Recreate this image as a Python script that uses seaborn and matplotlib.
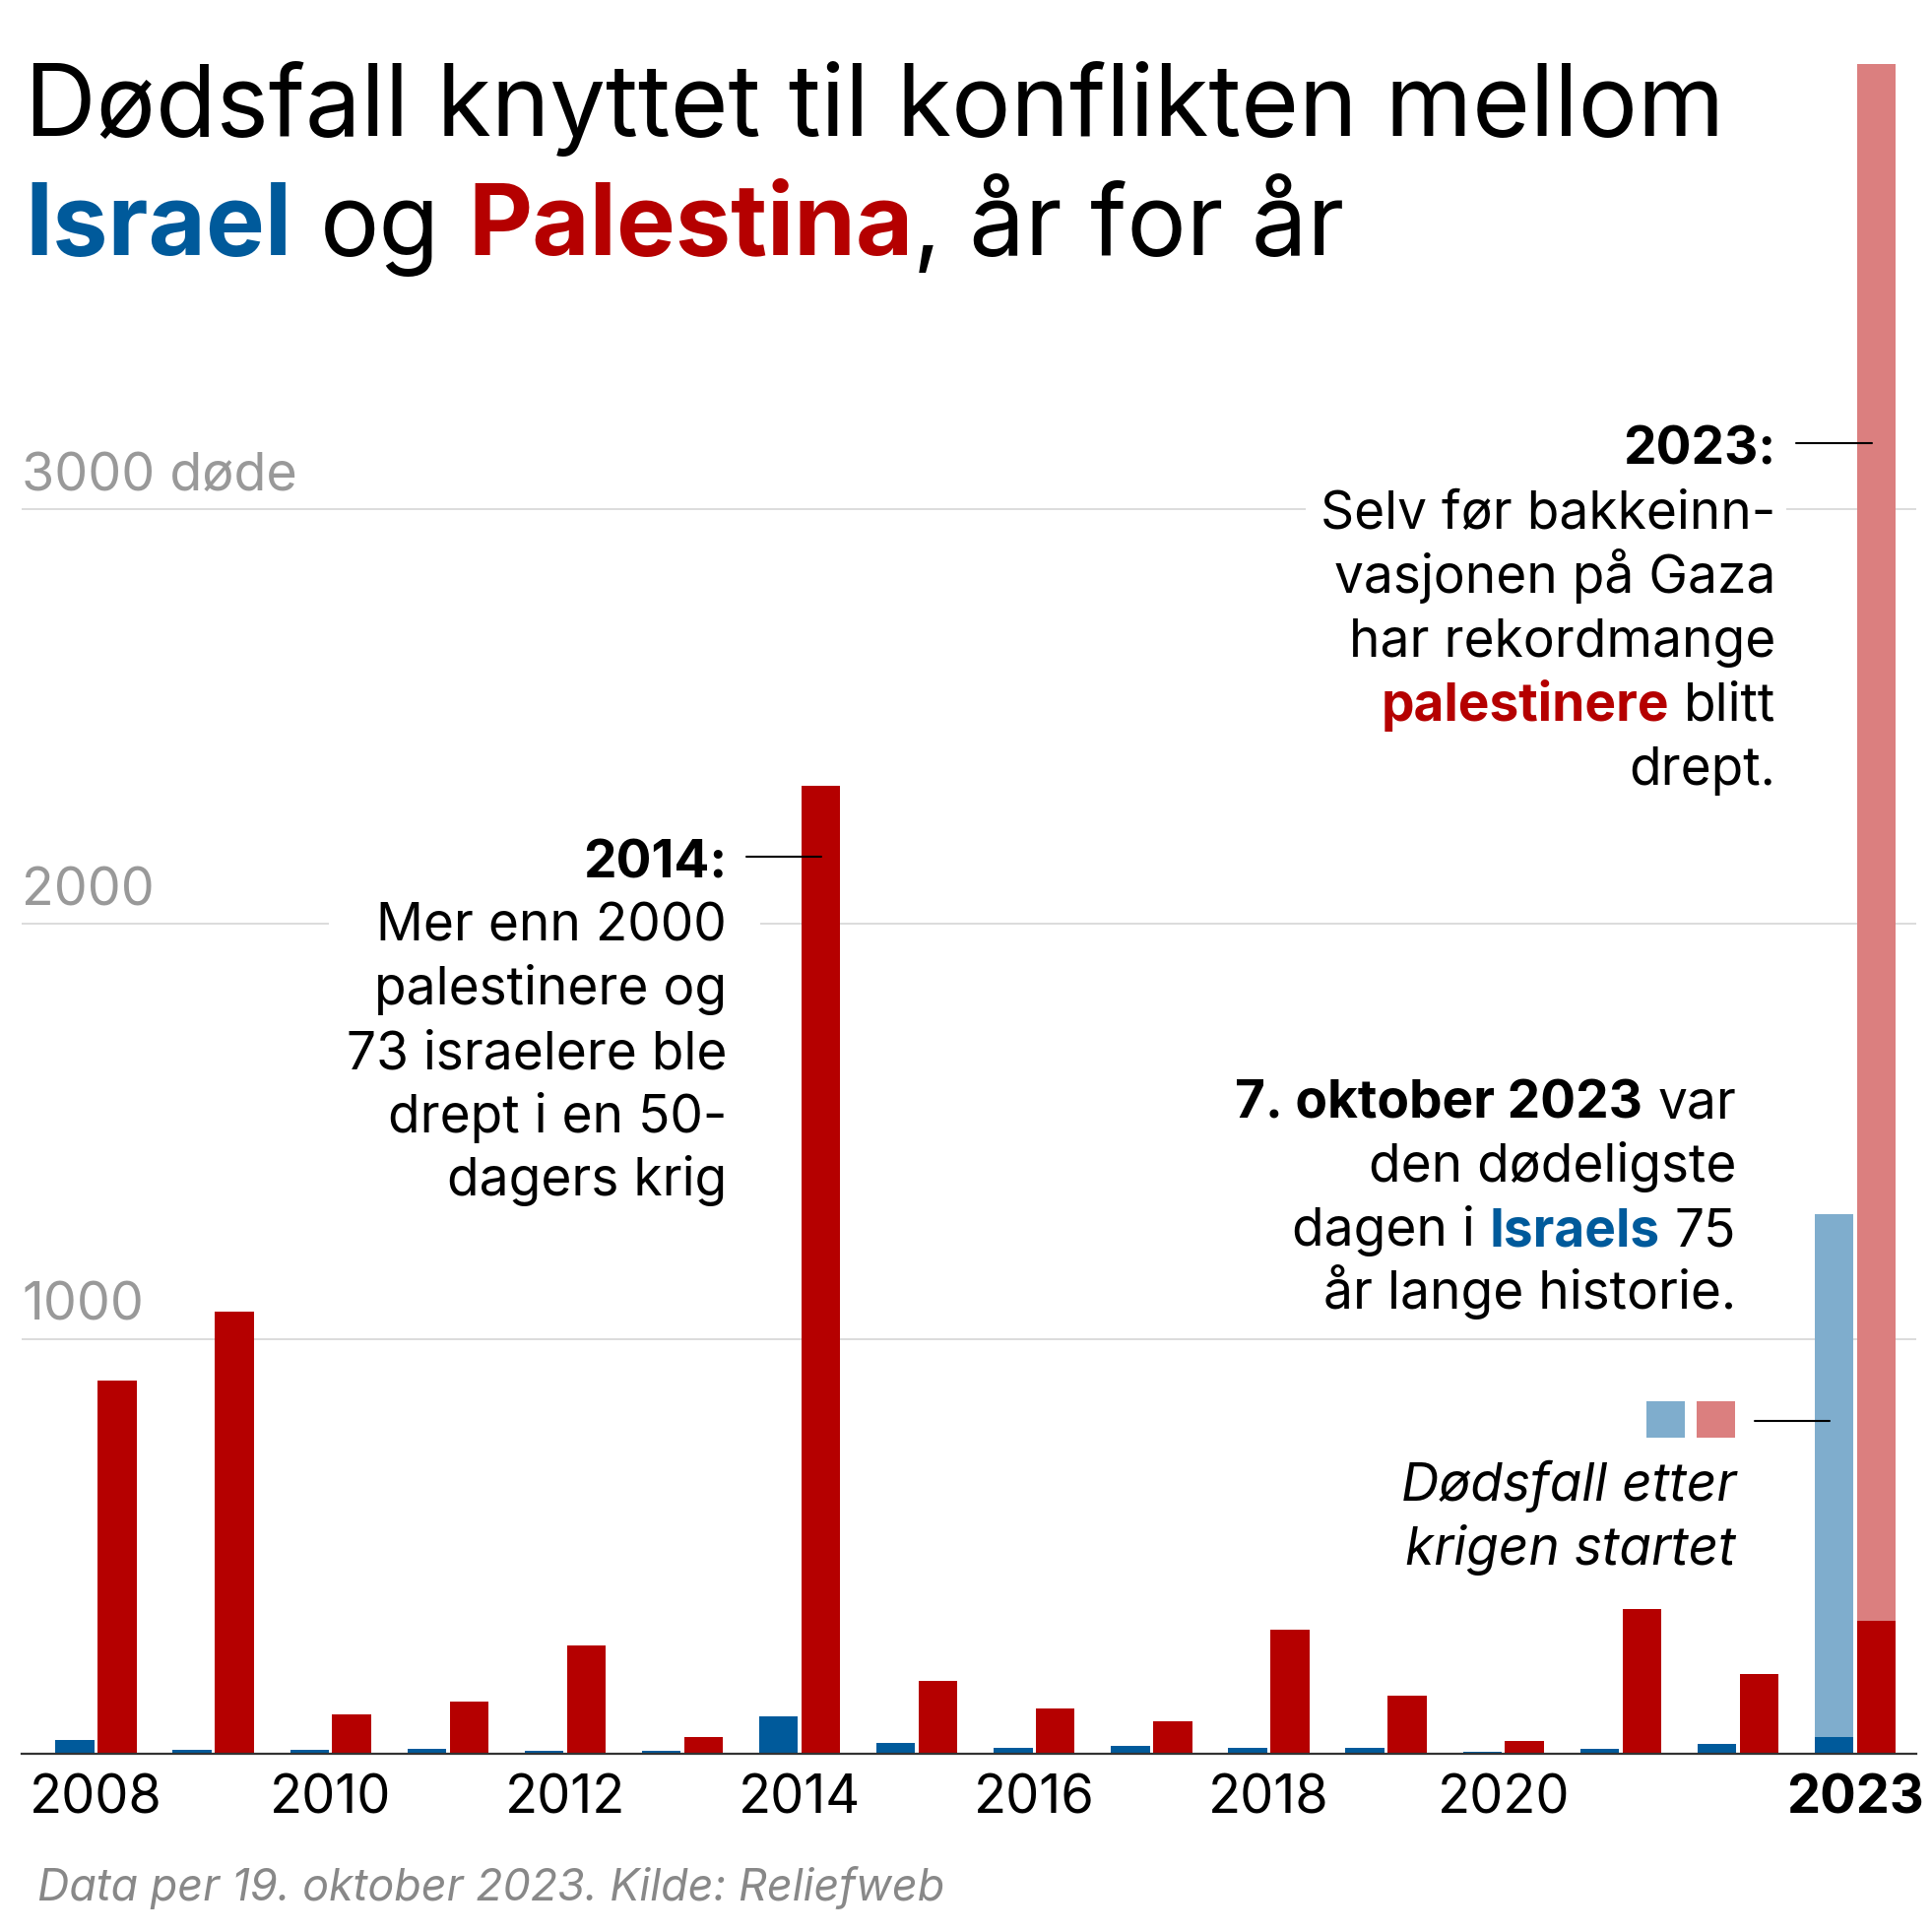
import numpy as np
import pandas as pd
import matplotlib
matplotlib.use("Agg")
import matplotlib.pyplot as plt
import seaborn as sns
from matplotlib.patches import Rectangle
from matplotlib.lines import Line2D
from matplotlib.transforms import blended_transform_factory

# ---------------- data ----------------
years = [str(y) for y in range(2008, 2024)]
israel_before = [33, 10, 9, 12, 8, 6, 90, 27, 14, 18, 14, 14, 4, 12, 24, 40]
palestine_before = [900, 1066, 95, 125, 260, 40, 2333, 176, 109, 78, 300, 139, 31, 349, 192, 320]
israel_after_war = [0] * 15 + [1260]
palestine_after_war = [0] * 15 + [3753]
groups = ["Israel", "Palestina"]
tick_years = ["2008", "2010", "2012", "2014", "2016", "2018", "2020", "2023"]
grid_values = [1000, 2000, 3000]
grid_labels = ["1000", "2000", "3000 døde"]

BLUE = "#005a9b"
RED = "#b50000"
LBLUE = "#7fadcd"
LRED = "#db7f7f"

sns.set_theme(style="white")
plt.rcParams["font.family"] = ["Inter", "DejaVu Sans"]

W = H = 1962
fig = plt.figure(figsize=(W / 100, H / 100), dpi=100)

# axes in pixel coords: left 22, right 1946, top 0, bottom 1781
AX_L, AX_R, AX_T, AX_B = 22, 1946, 0, 1781
ax = fig.add_axes([AX_L / W, 1 - AX_B / H, (AX_R - AX_L) / W, (AX_B - AX_T) / H])

total_isr = [a + b for a, b in zip(israel_before, israel_after_war)]
total_pal = [a + b for a, b in zip(palestine_before, palestine_after_war)]

df_total = pd.DataFrame({
    "year": years * 2,
    "group": ["Israel"] * len(years) + ["Palestina"] * len(years),
    "value": total_isr + total_pal,
})
df_before = pd.DataFrame({
    "year": years * 2,
    "group": ["Israel"] * len(years) + ["Palestina"] * len(years),
    "value": israel_before + palestine_before,
})

common = dict(x="year", y="value", hue="group", order=years, hue_order=groups,
              width=0.72, gap=0.08, errorbar=None, legend=False, linewidth=0,
              saturation=1, ax=ax)
sns.barplot(data=df_total, palette=[LBLUE, LRED], **common)
sns.barplot(data=df_before, palette=[BLUE, RED], **common)

px_per_year = 119.1
x0 = 97.5
ax.set_xlim(-(x0 - AX_L) / px_per_year, (AX_R - x0) / px_per_year)
px_per_unit = 421.3 / 1000
ax.set_ylim(0, (AX_B - AX_T) / px_per_unit)

# grid
ax.set_yticks(grid_values)
ax.set_yticklabels([])
ax.tick_params(axis="y", length=0)
ax.set_axisbelow(True)
ax.grid(axis="y", color="#d2d2d2", linewidth=1.1)
ax.grid(axis="x", visible=False)
for s in ["top", "right", "left"]:
    ax.spines[s].set_visible(False)
ax.spines["bottom"].set_color("#333333")
ax.spines["bottom"].set_linewidth(1.6)
ax.set_xlabel("")
ax.set_ylabel("")

# x ticks
ax.set_xticks([years.index(y) for y in tick_years])
ax.set_xticklabels(tick_years)
ax.tick_params(axis="x", length=0, pad=15, labelsize=39, labelcolor="black")
ax.get_xticklabels()[-1].set_fontweight("bold")

# y labels
trans = blended_transform_factory(ax.transAxes, ax.transData)
for v, lab in zip(grid_values, grid_labels):
    ax.annotate(lab, xy=(0, v), xycoords=trans, xytext=(0, 19), textcoords="offset pixels",
                ha="left", va="baseline", fontsize=38.7, color="#999999")

# ---------------- text helpers ----------------
fig.canvas.draw()
renderer = fig.canvas.get_renderer()


def _w(s, **kw):
    t = fig.text(0, 0, s, **kw)
    w = t.get_window_extent(renderer).width
    t.remove()
    return w


def run_width(s, **kw):
    return _w("|" + s + "|", **kw) - _w("||", **kw)


def draw_runs(x, y, runs, ha="left", size=34.5, zorder=6):
    widths = []
    for r in runs:
        kw = dict(fontsize=size, fontweight=r.get("weight", "normal"),
                  fontstyle=r.get("style", "normal"))
        widths.append(run_width(r["text"], **kw))
    total = sum(widths)
    pen = x if ha == "left" else x - total
    for r, w in zip(runs, widths):
        kw = dict(fontsize=size, fontweight=r.get("weight", "normal"),
                  fontstyle=r.get("style", "normal"))
        s = r["text"]
        core = s.lstrip(" ")
        lead = len(s) - len(core)
        off = run_width(" " * lead, **kw) if lead else 0
        if core.strip():
            fig.text((pen + off) / W, 1 - y / H, core.rstrip(" "), ha="left", va="baseline",
                     color=r.get("color", "black"), zorder=zorder, **kw)
        pen += w


def R(text, **kw):
    d = {"text": text}
    d.update(kw)
    return d


def hline(x1, x2, y, color="black", lw=1.5):
    fig.add_artist(Line2D([x1 / W, x2 / W], [1 - y / H, 1 - y / H], color=color,
                          linewidth=lw, transform=fig.transFigure, zorder=5))


def white_box(x1, y1, x2, y2):
    ax.add_patch(Rectangle((x1 / W, 1 - y2 / H), (x2 - x1) / W, (y2 - y1) / H,
                           transform=fig.transFigure, facecolor="white",
                           edgecolor="none", zorder=0.8, clip_on=False))


# ---------------- title ----------------
TS = 72.5
draw_runs(25, 138, [R("Dødsfall knyttet til konflikten mellom")], size=TS)
draw_runs(25, 259, [R("Israel", weight="bold", color=BLUE), R(" og "),
                    R("Palestina", weight="bold", color=RED), R(", år for år")], size=TS)

# ---------------- annotations ----------------
AS = 38.3
white_box(334, 840, 772, 1235)
draw_runs(738, 891, [R("2014:", weight="bold")], ha="right", size=AS)
for txt, yb in [("Mer enn 2000", 955), ("palestinere og", 1020), ("73 israelere ble", 1085),
                ("drept i en 50-", 1150), ("dagers krig", 1214)]:
    draw_runs(738, yb, [R(txt)], ha="right", size=AS)
hline(758, 834, 870)

white_box(1326, 425, 1814, 810)
draw_runs(1803, 472, [R("2023:", weight="bold")], ha="right", size=AS)
draw_runs(1803, 537, [R("Selv før bakkeinn-")], ha="right", size=AS)
draw_runs(1803, 602, [R("vasjonen på Gaza")], ha="right", size=AS)
draw_runs(1803, 667, [R("har rekordmange")], ha="right", size=AS)
draw_runs(1803, 732, [R("palestinere", weight="bold", color=RED), R(" blitt")], ha="right", size=AS)
draw_runs(1803, 797, [R("drept.")], ha="right", size=AS)
hline(1824, 1901, 450)

draw_runs(1763, 1135, [R("7. oktober 2023", weight="bold"), R(" var")], ha="right", size=AS)
draw_runs(1763, 1200, [R("den dødeligste")], ha="right", size=AS)
draw_runs(1763, 1265, [R("dagen i "), R("Israels", weight="bold", color=BLUE), R(" 75")],
          ha="right", size=AS)
draw_runs(1763, 1329, [R("år lange historie.")], ha="right", size=AS)

# legend squares
for (xa, xb), c in [((1672, 1711), LBLUE), ((1723, 1762), LRED)]:
    fig.add_artist(Rectangle((xa / W, 1 - 1460 / H), (xb - xa) / W, (1460 - 1423) / H,
                             transform=fig.transFigure, facecolor=c, edgecolor="none", zorder=5))
hline(1782, 1858, 1443)
draw_runs(1763, 1524, [R("Dødsfall etter", style="italic")], ha="right", size=AS)
draw_runs(1763, 1589, [R("krigen startet", style="italic")], ha="right", size=AS)

# footer
fig.text(38 / W, 1 - 1930 / H, "Data per 19. oktober 2023. Kilde: Reliefweb",
         ha="left", va="baseline", fontsize=32.3, fontstyle="italic", color="#888888")

fig.savefig("out.png", dpi=100, facecolor="white")
